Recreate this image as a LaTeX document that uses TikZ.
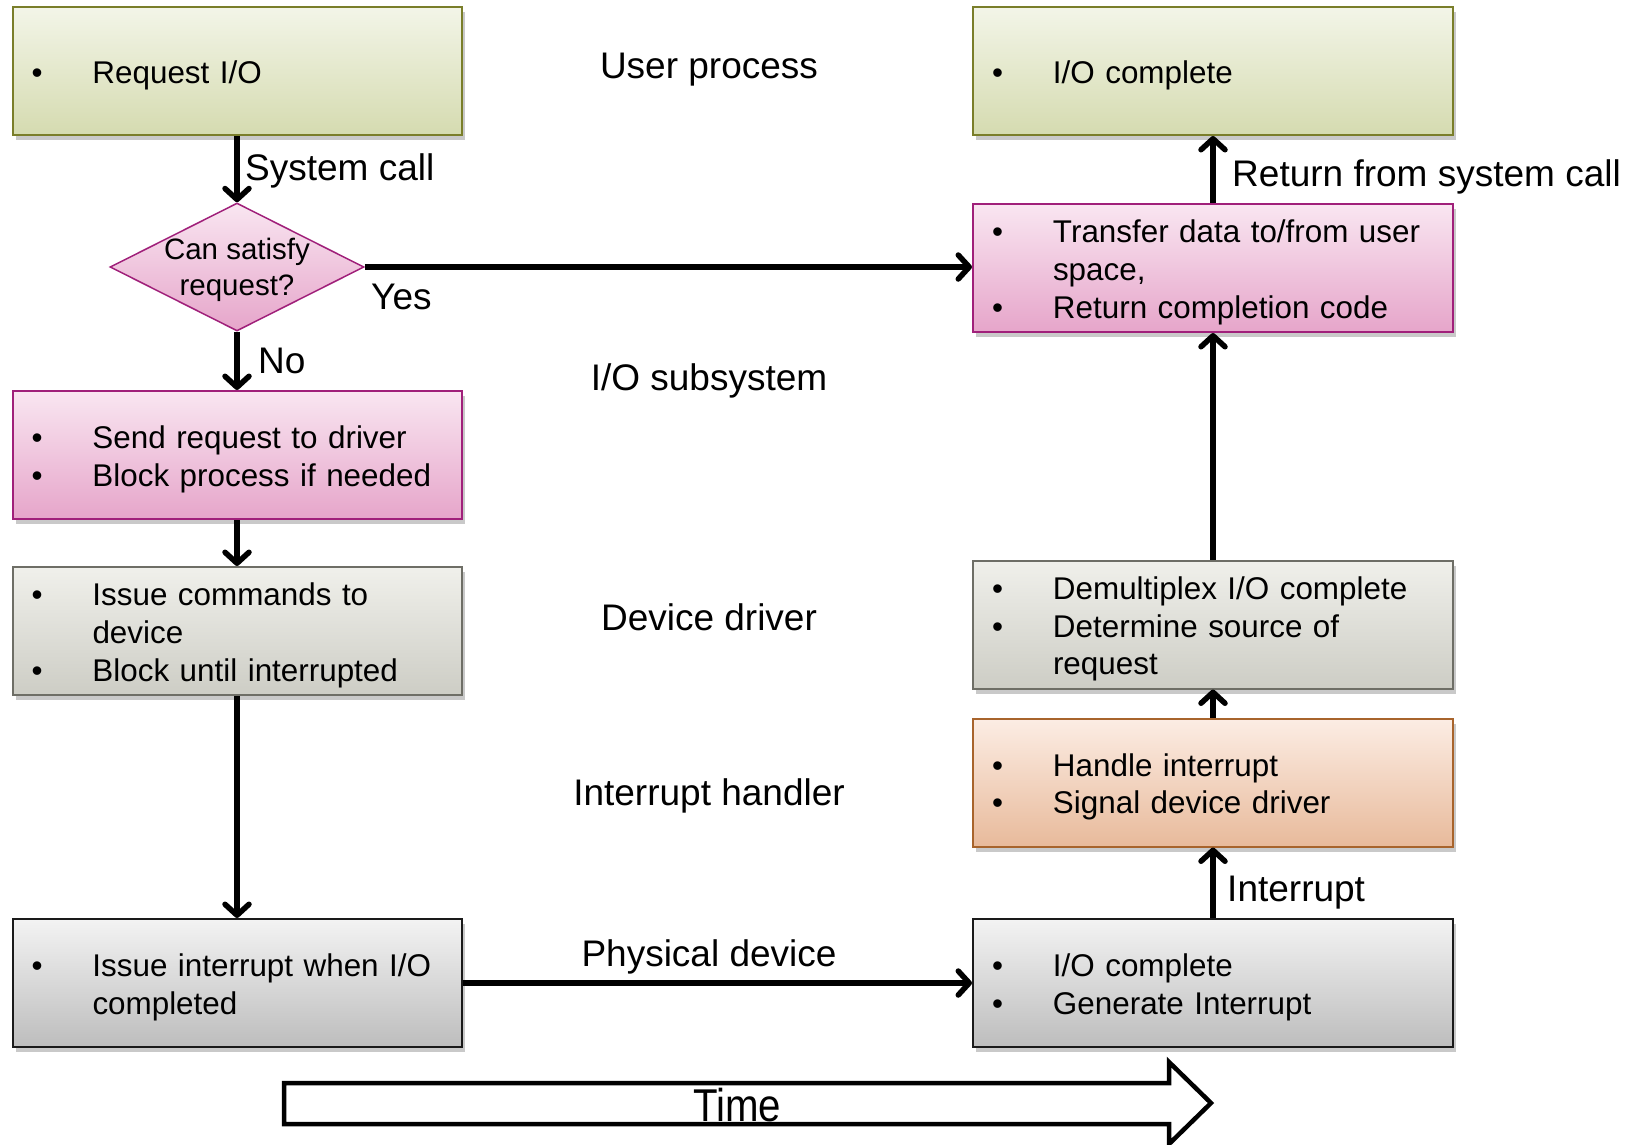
\documentclass[tikz,border=0pt]{standalone}
\usepackage{fontspec}
\setmainfont{Liberation Sans}
\usetikzlibrary{shapes.geometric,arrows.meta,shadows}
\definecolor{gTop}{HTML}{F3F5E8}
\definecolor{gBot}{HTML}{D5DBB0}
\definecolor{gLine}{HTML}{7A7E2A}
\definecolor{pTop}{HTML}{F9E6F1}
\definecolor{pBot}{HTML}{E6A5CA}
\definecolor{pLine}{HTML}{A0207A}
\definecolor{tTop}{HTML}{F0F0EB}
\definecolor{tBot}{HTML}{CDCDC5}
\definecolor{tLine}{HTML}{6E6E66}
\definecolor{oTop}{HTML}{FCEDE4}
\definecolor{oBot}{HTML}{E8BA9B}
\definecolor{oLine}{HTML}{A8642C}
\definecolor{kTop}{HTML}{F3F3F3}
\definecolor{kBot}{HTML}{BDBDBD}
\definecolor{kLine}{HTML}{1A1A1A}
\newcommand{\bl}[1]{\raisebox{-5pt}[\height][\depth]{\begin{tabular}{@{}p{61pt}@{}l@{}}#1\end{tabular}}}
\begin{document}
\begin{tikzpicture}[x=1pt,y=-1pt,
  flowbox/.style={rectangle, line width=2pt, inner ysep=0pt, inner xsep=19pt,
    minimum height=128pt, font=\fontsize{31.4}{37.7}\selectfont,
    drop shadow={shadow xshift=3pt, shadow yshift=-5pt, opacity=0.3, fill=black!70}},
  lbox/.style={flowbox, minimum width=449pt, text width=411pt},
  rbox/.style={flowbox, minimum width=480pt, text width=442pt},
  greenbox/.style={top color=gTop, bottom color=gBot, draw=gLine},
  pinkbox/.style={top color=pTop, bottom color=pBot, draw=pLine},
  tanbox/.style={top color=tTop, bottom color=tBot, draw=tLine},
  orangebox/.style={top color=oTop, bottom color=oBot, draw=oLine},
  greybox/.style={top color=kTop, bottom color=kBot, draw=kLine},
  flow/.style={line width=5.5pt, -{Straight Barb[length=11pt,width=24pt,round]}},
  lbl/.style={font=\fontsize{37}{40}\selectfont, inner sep=0pt},
  layer/.style={font=\fontsize{37}{40}\selectfont, inner sep=0pt, anchor=mid}
]
\useasboundingbox (0,0) rectangle (1640,1144);

% left column
\node[lbox, greenbox] (req) at (237,71) {\bl{\textbullet & Request I/O}};
\node[diamond, shape aspect=2, inner sep=0pt, minimum width=254pt, minimum height=128pt,
  top color=pTop, bottom color=pBot, draw=pLine, line width=1.5pt] (dia) at (237,267) {};
\node[font=\fontsize{29.5}{35.5}\selectfont, align=center, inner sep=0pt] (diatext)
  at ([yshift=-3pt]dia.center) {Can satisfy\\request?};
\node[lbox, pinkbox] (send) at (237,455) {\bl{\textbullet & Send request to driver\\ \textbullet & Block process if needed}};
\node[lbox, tanbox] (cmd) at (237,631) {\bl{\textbullet & Issue commands to\\ & device\\ \textbullet & Block until interrupted}};
\node[lbox, greybox] (iss) at (237,983) {\bl{\textbullet & Issue interrupt when I/O\\ & completed}};

% right column
\node[rbox, greenbox] (done) at (1213,71) {\bl{\textbullet & I/O complete}};
\node[rbox, pinkbox] (xfer) at (1213,268) {\bl{\textbullet & Transfer data to/from user\\ & space,\\ \textbullet & Return completion code}};
\node[rbox, tanbox] (demux) at (1213,624.5) {\bl{\textbullet & Demultiplex I/O complete\\ \textbullet & Determine source of\\ & request}};
\node[rbox, orangebox] (hand) at (1213,782.5) {\bl{\textbullet & Handle interrupt\\ \textbullet & Signal device driver}};
\node[rbox, greybox] (gen) at (1213,983) {\bl{\textbullet & I/O complete\\ \textbullet & Generate Interrupt}};

% layer labels
\node[layer] (l1) at (709,75.5) {User process};
\node[layer] (l2) at (709,387.5) {I/O subsystem};
\node[layer] (l3) at (709,627.5) {Device driver};
\node[layer] (l4) at (709,802.5) {Interrupt handler};
\node[layer] (l5) at (709,963.5) {Physical device};

% connectors
\draw[flow] (req.south) -- (dia.north);
\draw[flow] (dia.south) -- (send.north);
\draw[flow] (send.south) -- (cmd.north);
\draw[flow] (cmd.south) -- (iss.north);
\draw[flow] (dia.east) -- (dia.east -| xfer.west);
\draw[flow] (iss.east) -- (gen.west);
\draw[flow] (gen.north) -- (hand.south);
\draw[flow] (hand.north) -- (demux.south);
\draw[flow] (demux.north) -- (xfer.south);
\draw[flow] (xfer.north) -- (done.south);

% connector labels
\node[lbl, anchor=mid west] (syscall) at (245,177.5) {System call};
\node[lbl, anchor=mid west] (yes) at (371,306.5) {Yes};
\node[lbl, anchor=mid west] (no) at (258,370.5) {No};
\node[lbl, anchor=mid west] (ret) at (1232,183.5) {Return from system call};
\node[lbl, anchor=mid west] (intr) at (1227,898.5) {Interrupt};

% time arrow
\draw[line width=4.5pt, line join=miter, fill=white]
  (284,1083) -- (1169,1083) -- (1169,1062) -- (1211,1103) -- (1169,1144)
  -- (1169,1124) -- (284,1124) -- cycle;
\node[inner sep=0pt, anchor=base, font=\fontsize{46}{46}\selectfont] (time) at (737,1121) {\scalebox{0.875}[1]{Time}};
\end{tikzpicture}
\end{document}
